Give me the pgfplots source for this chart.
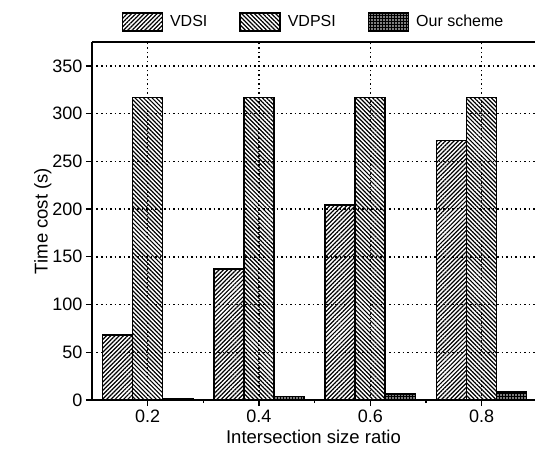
\documentclass[border=0pt]{standalone}
\usepackage{fontspec}
\setmainfont{Liberation Sans}
\usepackage{pgfplots}
\pgfplotsset{compat=1.18}
\usetikzlibrary{patterns,patterns.meta}

\pgfplotstableread{
x    vdsi  vdpsi  ours
0.2  68    317    1.5
0.4  137   317    3.5
0.6  204   317    6
0.8  272   317    8.5
}\timecost

\tikzset{
  ne/.style={pattern={Lines[angle=45,distance=3pt,line width=1.2pt]}},
  nw/.style={pattern={Lines[angle=-45,distance=3pt,line width=1.2pt]}},
  dd/.style={fill=black,postaction={pattern={Dots[distance=3pt,radius=0.8pt]},pattern color=white}},
}

\begin{document}
\begin{tikzpicture}
\path[use as bounding box] (-92pt,-55pt) rectangle (443pt,400pt);
\begin{axis}[
  at={(0,0)}, anchor=south west,
  scale only axis,
  width=443pt, height=358pt,
  xmin=0.1, xmax=0.896,
  ymin=0, ymax=375,
  axis x line*=box, axis y line*=left,
  axis line style={line width=1.6pt},
  xtick={0.2,0.4,0.6,0.8},
  xticklabels={0.2,0.4,0.6,0.8},
  minor xtick={0.3,0.5,0.7},
  ytick={0,50,...,350},
  tick align=outside,
  xtick pos=bottom,
  major tick length=6pt, minor tick length=3pt,
  tick style={line width=1.3pt, black},
  grid=major,
  major grid style={line width=1.5pt, dash pattern=on 1.5pt off 3pt, black},
  ticklabel style={font=\fontsize{18}{20}\selectfont},
  /pgf/number format/assume math mode=true,
  xlabel={Intersection size ratio},
  ylabel={Time cost (s)},
  label style={font=\fontsize{18.5}{20}\selectfont},
  xlabel style={yshift=-1pt},
  ylabel style={yshift=-6pt},
  ybar, bar width=0.054,
  legend style={at={(0.5,1.056)}, anchor=center, draw=none, fill=none,
    legend columns=3, font=\fontsize{16}{18}\selectfont,
    /tikz/every odd column/.append style={column sep=5pt},
    /tikz/every even column/.append style={column sep=30pt}},
  legend image code/.code={\draw[#1, line width=1.4pt] (0pt,-9pt) rectangle (40pt,9pt);},
]
\addplot[draw=black, line width=1.6pt, ne, bar shift=-0.054] table[x=x,y=vdsi]{\timecost};
\addplot[draw=black, line width=1.6pt, nw, bar shift=0] table[x=x,y=vdpsi]{\timecost};
\addplot[draw=black, line width=1.6pt, dd, bar shift=0.054] table[x=x,y=ours]{\timecost};
\legend{VDSI, VDPSI, Our scheme}
\end{axis}
\end{tikzpicture}
\end{document}
